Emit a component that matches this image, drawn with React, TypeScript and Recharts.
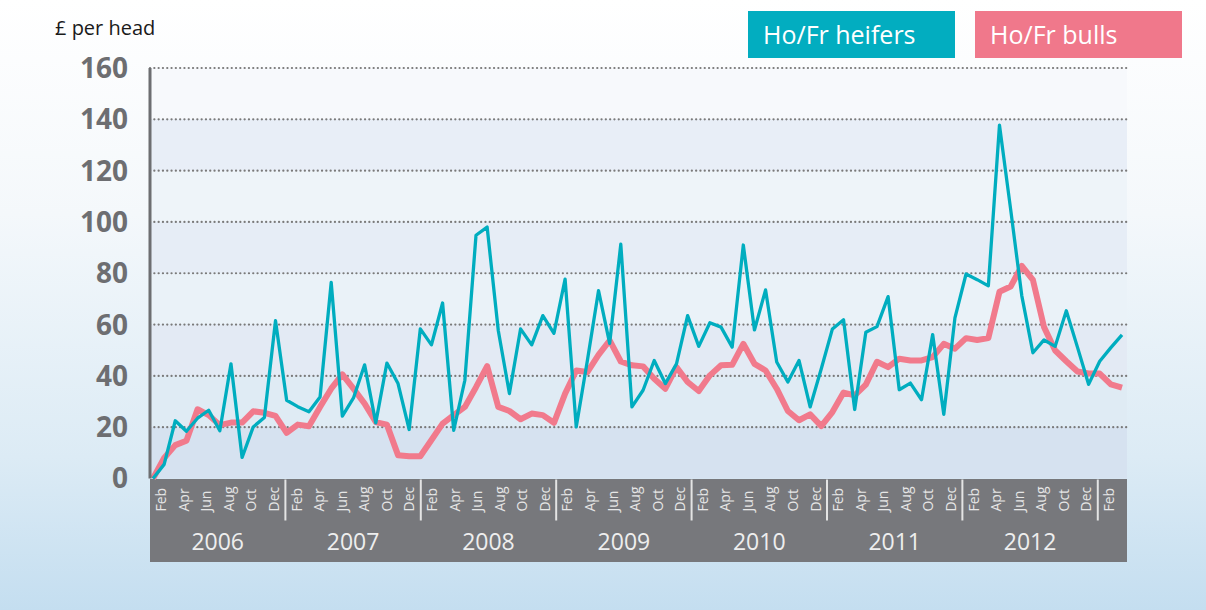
import React from "react";
import {
  LineChart,
  Line,
  XAxis,
  YAxis,
  ReferenceArea,
  ReferenceLine,
} from "recharts";

// monthly prices, £ per head (one point per month)
const heifers = [
  0, 5.5, 22.5, 18.4, 23.5, 26.6, 18.6, 44.7, 8.2, 20.1,
  23.8, 61.5, 30.5, 28, 26, 31.8, 76.4, 24.3, 31.4, 44.3,
  21.7, 45, 37, 19.1, 58.3, 52.1, 68.4, 18.8, 38.3, 94.8,
  98, 57.7, 33.1, 58.3, 52.1, 63.5, 56.6, 77.7, 20.1, 46,
  73.2, 52.7, 91.3, 27.9, 34.4, 46, 37, 44.7, 63.5, 51.5,
  60.7, 59, 51.2, 91, 57.9, 73.5, 45.4, 37.6, 46, 27.9,
  42.8, 58.3, 61.9, 26.9, 57, 59.2, 70.9, 34.6, 37.2, 30.7,
  56.1, 25, 62.6, 79.7, 77.5, 75.1, 137.7, 105, 71.3, 49,
  54, 51.5, 65.4, 51.2, 36.7, 45.7, 51, 56,
];

const bulls = [
  0, 8, 13, 14.7, 27, 24.7, 20.8, 21.8, 21.8, 26.2,
  25.6, 24.4, 17.8, 21, 20.4, 27.9, 35, 40.6, 35, 29.2,
  22, 21, 9.1, 8.7, 8.7, 15, 21.4, 24.7, 27.9, 35.6,
  43.8, 27.9, 26.3, 23.1, 25.3, 24.7, 21.7, 33.1, 42.1, 41.5,
  48.2, 53.8, 45.6, 44.1, 43.7, 38.9, 35, 43.4, 37.6, 34.1,
  40.2, 44.1, 44.3, 52.5, 44.7, 42.1, 35, 26.3, 22.7, 25,
  20.4, 25.9, 33.5, 32.4, 36.6, 45.5, 43.4, 46.7, 46, 46,
  47.3, 52.5, 50.6, 54.7, 54, 54.7, 72.8, 74.8, 82.9, 77.4,
  59, 49.9, 45.7, 41.7, 40.9, 40.9, 36.7, 35.4,
];

const years = ["2006", "2007", "2008", "2009", "2010", "2011", "2012"];
const monthNames = ["Jan", "Feb", "Mar", "Apr", "May", "Jun", "Jul", "Aug", "Sep", "Oct", "Nov", "Dec"];
const labelledMonths = [1, 3, 5, 7, 9, 11];
const tailMonths = [1]; // Feb of the following year
const yTicks = [0, 20, 40, 60, 80, 100, 120, 140, 160];
const stripColors = ["#f7f9fc", "#e8eef7", "#eef4f9", "#e6edf6", "#eaf2f8", "#e3eaf4", "#dfebf4", "#d6e2f0"];

const TEAL = "#00adbf";
const PINK = "#f17a8c";
const AXIS_GREY = "#6d6e71";

const W = 1206;
const H = 610;
const MARGIN = { top: 68, right: 79, bottom: 41.5, left: 90 };
const XAXIS_H = 90;
const PLOT_BOTTOM = H - MARGIN.bottom - XAXIS_H;
const LABEL_SPAN = 86.59; // label axis, in months since Jan 2006, across the plot width

const data = heifers.map((h, i) => ({ i, heifers: h, bulls: bulls[i] }));

type TickInfo = { kind: "month" | "year" | "sep"; label?: string };
const tickInfo = new Map<number, TickInfo>();
years.forEach((yr, y) => {
  labelledMonths.forEach((m) => tickInfo.set(y * 12 + m, { kind: "month", label: monthNames[m] }));
  tickInfo.set(y * 12 + 6, { kind: "year", label: yr });
  tickInfo.set((y + 1) * 12, { kind: "sep" });
});
tailMonths.forEach((m) => tickInfo.set(years.length * 12 + m, { kind: "month", label: monthNames[m] }));
const axisTicks = Array.from(tickInfo.keys()).sort((a, b) => a - b);

const AxisTick = (props: any) => {
  const { x, payload } = props;
  const info = tickInfo.get(payload.value);
  if (!info) return null;
  if (info.kind === "sep") {
    return (
      <line x1={x} x2={x} y1={PLOT_BOTTOM + 1} y2={PLOT_BOTTOM + 42} stroke="#e4e4e4" strokeWidth={2} />
    );
  }
  if (info.kind === "year") {
    return (
      <text x={x} y={PLOT_BOTTOM + 71} textAnchor="middle" fill="#eeeeee" fontSize={23} fontFamily="'Open Sans', sans-serif">
        {info.label}
      </text>
    );
  }
  return (
    <text
      transform={`translate(${x},${PLOT_BOTTOM + 33}) rotate(-90)`}
      dy="0.35em"
      textAnchor="start"
      fill="#e6e6e6"
      fontSize={14}
      fontFamily="'Open Sans', sans-serif"
    >
      {info.label}
    </text>
  );
};

export default function App() {
  return (
    <div
      style={{
        position: "absolute",
        left: 0,
        top: 0,
        width: W,
        height: H,
        overflow: "hidden",
        background: "linear-gradient(to bottom, #ffffff 0%, #f4f8fb 35%, #dcebf5 75%, #c4def0 100%)",
        fontFamily: "'Open Sans', sans-serif",
      }}
    >
      {/* grey band behind the month / year labels */}
      <div
        style={{
          position: "absolute",
          left: MARGIN.left + 60,
          top: PLOT_BOTTOM,
          width: W - MARGIN.left - 60 - MARGIN.right,
          height: 83,
          background: "#77787c",
        }}
      />
      <div style={{ position: "absolute", left: 55, top: 14, fontSize: 20, color: "#1a1a1a" }}>£ per head</div>
      <div
        style={{
          position: "absolute",
          left: 748,
          top: 11,
          width: 207,
          height: 47,
          lineHeight: "47px",
          background: "#02adc0",
          color: "#ffffff",
          fontSize: 25,
          paddingLeft: 15,
          boxSizing: "border-box",
        }}
      >
        Ho/Fr heifers
      </div>
      <div
        style={{
          position: "absolute",
          left: 975,
          top: 11,
          width: 207,
          height: 47,
          lineHeight: "47px",
          background: "#f0788b",
          color: "#ffffff",
          fontSize: 25,
          paddingLeft: 15,
          boxSizing: "border-box",
        }}
      >
        Ho/Fr bulls
      </div>
      <div style={{ position: "absolute", left: 0, top: 0 }}>
        <LineChart width={W} height={H} data={data} margin={MARGIN}>
          <XAxis xAxisId="data" dataKey="i" type="number" domain={[0, heifers.length - 1]} padding={{ left: 3, right: 5 }} hide />
          <XAxis
            xAxisId="mon"
            dataKey="i"
            type="number"
            domain={[0, LABEL_SPAN]}
            ticks={axisTicks}
            interval={0}
            height={XAXIS_H}
            axisLine={false}
            tickLine={false}
            tick={<AxisTick />}
            allowDataOverflow
          />
          <YAxis
            yAxisId={0}
            type="number"
            domain={[0, 160]}
            ticks={yTicks}
            width={60}
            tickSize={0}
            tickMargin={22}
            axisLine={{ stroke: AXIS_GREY, strokeWidth: 3 }}
            tickLine={false}
            tick={{ fill: AXIS_GREY, fontSize: 28, fontWeight: 700, fontFamily: "'Open Sans', sans-serif" }}
          />
          {stripColors.map((c, k) => (
            <ReferenceArea
              key={`strip-${k}`}
              xAxisId="mon"
              x1={0}
              x2={LABEL_SPAN}
              y1={yTicks[yTicks.length - 1 - k]}
              y2={yTicks[yTicks.length - 2 - k]}
              fill={c}
              fillOpacity={1}
              stroke="none"
            />
          ))}
          {yTicks.slice(1).map((v) => (
            <ReferenceLine
              key={`grid-${v}`}
              xAxisId="mon"
              y={v}
              stroke="#7a7a7a"
              strokeWidth={2.2}
              strokeDasharray="0.1 4.2"
              strokeLinecap="round"
            />
          ))}
          <Line
            xAxisId="data"
            type="linear"
            dataKey="bulls"
            stroke={PINK}
            strokeWidth={6}
            strokeLinejoin="round"
            dot={false}
            isAnimationActive={false}
          />
          <Line
            xAxisId="data"
            type="linear"
            dataKey="heifers"
            stroke={TEAL}
            strokeWidth={3.3}
            strokeLinejoin="round"
            dot={false}
            isAnimationActive={false}
          />
        </LineChart>
      </div>
    </div>
  );
}
